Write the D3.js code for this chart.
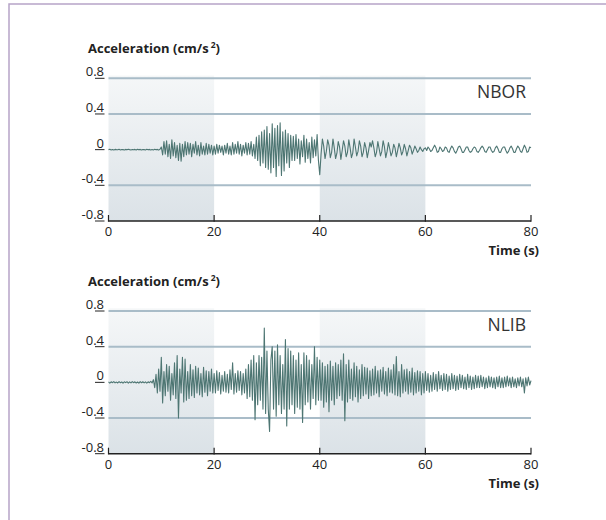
<!DOCTYPE html>
<meta charset="utf-8">
<style>
body { margin: 0; background: #fff; }
svg text { font-family: "Open Sans", "Noto Sans", sans-serif; fill: #222; }
.tick-label { font-size: 13px; }
.title { font-size: 13px; font-weight: 700; }
.station { font-size: 17.5px; fill: #333; }
</style>
<body>
<div id="chart"></div>
<script src="https://d3js.org/d3.v7.min.js"></script>
<script>

// sample spacing of the traces, in seconds
var step = 0.25;

var xTicks = [0, 20, 40, 60, 80];
var yTicks = [0.8, 0.4, 0, -0.4, -0.8];
var yTickLabels = ["0.8", "0.4", "0", "-0.4", "-0.8"];
var gridValues = [0.8, 0.4, -0.4];
var shadedBands = [[0, 20], [40, 60]];
var stations = ["NBOR", "NLIB"];

// station NBOR, cm/s^2, one row = 5 s
var nbor = [
  0,.004,-.003,.002,-.004,.003,0,-.002,.004,-.003,.002,0,-.004,.003,-.002,.004,0,-.003,.002,-.002,
  .003,-.004,.005,-.002,.003,-.004,.002,0,-.003,.004,-.002,.003,-.004,.002,-.003,.004,-.002,.003,-.005,.004,
  .03,-.06,.09,-.05,.1,-.08,.06,-.1,.11,-.07,.08,-.09,.05,-.12,.07,-.13,.06,-.08,.09,-.06,
  .08,-.05,.07,-.08,.06,-.04,.09,-.06,.05,-.07,.08,-.05,.04,-.06,.07,-.05,.06,-.04,.05,-.06,
  .04,-.05,.06,-.04,.05,-.03,.04,-.06,.05,-.04,.07,-.05,.04,-.06,.08,-.05,.06,-.04,.09,-.05,
  .06,-.07,.05,-.04,.08,-.06,.07,-.05,.09,-.07,.06,-.1,.14,-.12,.16,-.18,.2,-.15,.22,-.2,
  .26,-.22,.18,-.26,.29,-.2,.24,-.3,.27,-.18,.3,-.29,.2,-.24,.22,-.15,.18,-.2,.16,-.12,
  .15,-.12,.17,-.1,.12,-.16,.1,-.08,.16,-.14,.12,-.1,.08,-.15,.14,-.09,.11,-.07,.17,-.12,
  -.28,-.05,.12,.04,-.1,-.02,.11,.05,-.09,-.03,.12,.02,-.1,-.04,.09,.03,-.11,-.01,.1,.04,
  -.08,-.03,.11,.02,-.09,-.04,.12,.03,-.07,-.02,.1,.04,-.08,-.03,.08,.02,-.09,-.01,.08,.03,
  .1,.02,-.08,-.03,.09,.01,-.07,-.02,.1,.03,-.09,-.02,.08,.01,-.07,-.03,.06,.02,-.08,-.01,
  .07,.02,-.06,-.02,.06,.01,-.07,-.01,.05,.02,-.05,-.01,.04,.01,-.03,-.01,.03,0,-.02,.01,
  .02,-.01,.03,.01,-.02,-.01,.02,.05,.02,-.03,-.02,.03,.01,-.02,-.01,.03,.02,-.02,-.03,.01,
  .04,.02,-.02,-.04,-.01,.03,.04,.01,-.03,-.03,0,.03,.03,-.01,-.03,-.02,.01,.03,.02,-.02,
  -.03,-.01,.02,.04,.02,-.02,-.03,0,.03,.03,-.01,-.03,-.02,.02,.04,.01,-.03,-.03,.01,.03,
  .03,-.01,-.04,-.02,.02,.04,.01,-.03,-.03,.01,.04,.02,-.02,-.03,.01,.05,.02,-.03,-.02,.03,
  .02
];

// station NLIB, cm/s^2, one row = 5 s
var nlib = [
  .005,-.008,.006,-.004,.009,-.006,.003,-.007,.008,-.005,.004,-.009,.006,-.003,.007,-.008,.005,-.006,.009,-.004,
  .006,-.007,.004,-.009,.008,-.005,.007,-.006,.005,-.008,.006,-.004,.01,-.007,.03,-.06,.09,-.12,.15,-.1,
  .28,-.23,.12,-.15,.2,-.1,.18,-.2,.1,-.14,.22,-.18,.3,-.4,.15,-.12,.28,-.22,.26,-.2,
  .12,-.18,.2,-.15,.14,-.17,.18,-.12,.16,-.14,.1,-.16,.17,-.11,.13,-.15,.12,-.1,.15,-.12,
  .1,-.12,.13,-.09,.11,-.13,.08,-.1,.12,-.11,.09,-.12,.14,-.08,.22,-.13,.1,-.11,.13,-.09,
  .12,-.14,.1,-.12,.15,-.18,.2,-.16,.25,-.2,.3,-.42,.22,-.25,.3,-.2,.28,-.3,.61,-.35,
  .35,-.3,-.55,.25,.4,-.3,.35,-.38,.42,-.25,.3,-.35,.2,-.3,.48,-.49,.38,-.3,.35,-.25,
  .3,-.35,.25,-.28,.33,-.3,.2,-.45,.33,-.25,.3,-.22,.25,-.3,.2,-.18,.4,-.25,.28,-.2,
  .25,-.2,.22,-.28,.18,-.22,.2,-.33,.24,-.2,.18,-.25,.22,-.18,.2,-.15,.25,-.2,.32,-.43,
  .2,-.22,.25,-.18,.15,-.2,.22,-.16,.18,-.22,.14,-.18,.2,-.15,.17,-.13,.16,-.18,.13,-.15,
  .15,-.14,.18,-.12,.13,-.16,.14,-.1,.17,-.13,.12,-.15,.16,-.11,.14,-.12,.2,-.14,.29,-.15,
  .12,-.16,.2,-.12,.14,-.1,.15,-.13,.12,-.11,.16,-.14,.11,-.12,.13,-.1,.12,-.14,.1,-.12,
  .12,-.09,.1,-.11,.08,-.1,.11,-.08,.09,-.1,.12,-.07,.08,-.09,.1,-.08,.09,-.1,.07,-.08,
  .1,-.07,.08,-.09,.07,-.08,.09,-.06,.08,-.07,.06,-.08,.09,-.06,.07,-.08,.06,-.07,.08,-.06,
  .07,-.06,.08,-.05,.06,-.07,.05,-.06,.07,-.05,.06,-.06,.05,-.07,.06,-.05,.07,-.06,.05,-.06,
  .06,-.05,.07,-.04,.05,-.06,.06,-.05,.04,-.06,.05,-.04,.06,-.05,.04,-.12,.05,-.04,.06,-.03,
  .02
];

var width = 606, height = 520;

var svg = d3.select("#chart").append("svg")
    .attr("width", width)
    .attr("height", height);

// shading gradient for the 0-20 and 40-60 s bands
var grad = svg.append("defs").append("linearGradient")
    .attr("id", "band")
    .attr("x1", 0).attr("y1", 0).attr("x2", 0).attr("y2", 1);
grad.append("stop").attr("offset", "0%").attr("stop-color", "#f5f7f8");
grad.append("stop").attr("offset", "100%").attr("stop-color", "#dbe2e7");

// frame
svg.append("path")
    .attr("d", "M9,520V4H606")
    .attr("fill", "none")
    .attr("stroke", "#b6a4c8")
    .attr("stroke-width", 1.5);

var x = d3.scaleLinear().domain([0, 80]).range([108.5, 531]);

function drawPanel(top, name, values) {
  var y = d3.scaleLinear().domain([-0.8, 0.8]).range([top + 142.7, top]);
  var g = svg.append("g");

  g.selectAll(".band")
    .data(shadedBands)
    .enter().append("rect")
      .attr("x", function(d) { return x(d[0]); })
      .attr("width", function(d) { return x(d[1]) - x(d[0]); })
      .attr("y", y(0.83))
      .attr("height", y(-0.8) - y(0.83))
      .attr("fill", "url(#band)");

  g.selectAll(".grid")
    .data(gridValues)
    .enter().append("line")
      .attr("x1", x(0)).attr("x2", x(80))
      .attr("y1", function(d) { return y(d); })
      .attr("y2", function(d) { return y(d); })
      .attr("stroke", "#a9bcc8")
      .attr("stroke-width", 2);

  // y tick labels with their little underline ticks
  g.selectAll(".ytick")
    .data(yTicks)
    .enter().append("line")
      .attr("x1", 95).attr("x2", 104.5)
      .attr("y1", function(d) { return y(d); })
      .attr("y2", function(d) { return y(d); })
      .attr("stroke", "#222")
      .attr("stroke-width", 1);

  g.selectAll(".ylab")
    .data(yTicks)
    .enter().append("text")
      .attr("class", "tick-label")
      .attr("x", 104)
      .attr("y", function(d) { return y(d) - 2; })
      .attr("text-anchor", "end")
      .text(function(d, i) { return yTickLabels[i]; });

  // trace
  var line = d3.line()
    .x(function(d, i) { return x(i * step); })
    .y(function(d) { return y(d); });

  g.append("path")
    .datum(values)
    .attr("d", line)
    .attr("fill", "none")
    .attr("stroke", "#4e7673")
    .attr("stroke-width", 1.1)
    .attr("stroke-linejoin", "round");

  // x axis
  var axis = g.append("g")
    .attr("transform", "translate(0," + y(-0.8) + ")");
  axis.append("line")
    .attr("x1", x(0)).attr("x2", x(80))
    .attr("stroke", "#222").attr("stroke-width", 1.5);
  axis.selectAll(".xt")
    .data(xTicks)
    .enter().append("line")
      .attr("x1", function(d) { return x(d); })
      .attr("x2", function(d) { return x(d); })
      .attr("y1", 0.75).attr("y2", -6)
      .attr("stroke", "#222").attr("stroke-width", 1.2);
  axis.selectAll(".xl")
    .data(xTicks)
    .enter().append("text")
      .attr("class", "tick-label")
      .attr("x", function(d) { return x(d); })
      .attr("y", 15)
      .attr("text-anchor", "middle")
      .text(function(d) { return d; });
  axis.append("text")
    .attr("class", "title")
    .attr("x", 539)
    .attr("y", 34)
    .attr("text-anchor", "end")
    .text("Time (s)");

  var t = g.append("text")
    .attr("class", "title")
    .attr("x", 88)
    .attr("y", top - 25);
  t.append("tspan").text("Acceleration (cm/s");
  t.append("tspan").attr("dx", 2).attr("dy", -5).attr("font-size", 8.5).text("2");
  t.append("tspan").attr("dy", 5).text(")");

  g.append("text")
    .attr("class", "station")
    .attr("x", 526)
    .attr("y", top + 20)
    .attr("text-anchor", "end")
    .text(name);
}

drawPanel(78.3, stations[0], nbor);
drawPanel(311, stations[1], nlib);

</script>
</body>
